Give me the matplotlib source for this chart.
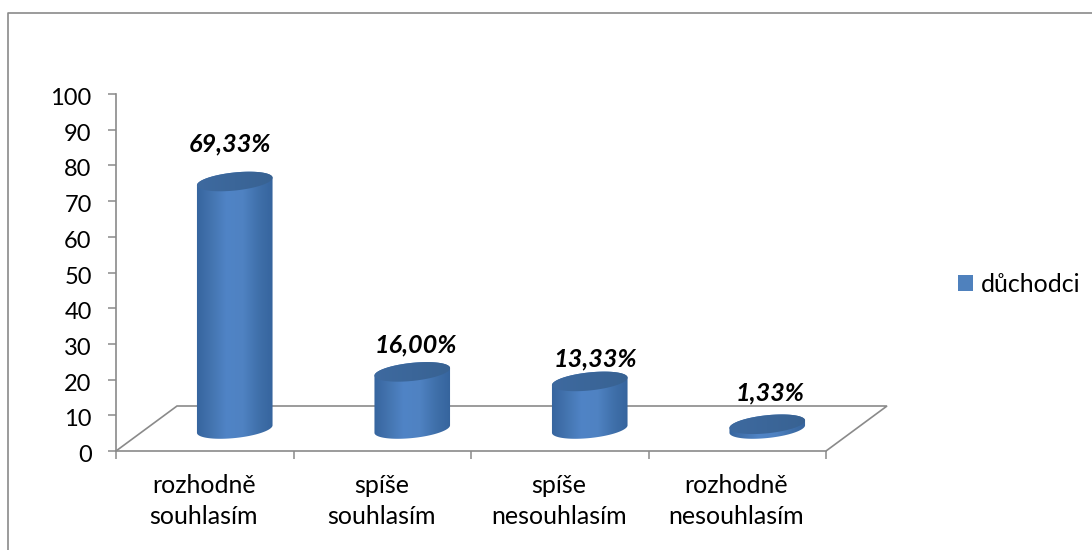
import numpy as np
import matplotlib
matplotlib.use("Agg")
import matplotlib.pyplot as plt
from matplotlib.lines import Line2D
from matplotlib.patches import Patch, PathPatch, Polygon
from matplotlib.path import Path
from matplotlib.colors import LinearSegmentedColormap
from matplotlib.transforms import ScaledTranslation

categories = ["rozhodně\nsouhlasím", "spíše\nsouhlasím", "spíše\nnesouhlasím", "rozhodně\nnesouhlasím"]
values = [69.33, 16.0, 13.33, 1.33]
value_labels = ["69,33%", "16,00%", "13,33%", "1,33%"]
series_name = "důchodci"
y_ticks = list(range(0, 101, 10))

W, H = 1092, 550
plt.rcParams["font.family"] = ["Lato", "DejaVu Sans"]
GRAY = "#8a8a8a"

fig = plt.figure(figsize=(W / 100, H / 100), dpi=100, facecolor="white")
L, R, T, B = 116, 826, 94, 451
ax = fig.add_axes([L / W, 1 - B / H, (R - L) / W, (B - T) / H])
ax.set_xlim(0, 4)
ax.set_ylim(0, 100)
ax.patch.set_visible(False)
PX_X = (R - L) / 4
PX_Y = (B - T) / 100

for s in ("top", "right"):
    ax.spines[s].set_visible(False)
for s in ("left", "bottom"):
    ax.spines[s].set_color(GRAY)
    ax.spines[s].set_linewidth(1.2)
ax.set_yticks(y_ticks)
ax.set_xticks(range(5))
ax.set_xticklabels([])
ax.tick_params(axis="y", length=5.5, width=1.1, color=GRAY, labelsize=17, pad=12, labelcolor="black")
ax.tick_params(axis="x", length=5.5, width=1.1, color=GRAY)
shift = ScaledTranslation(0, -2.5 / 100, fig.dpi_scale_trans)
for lab in ax.get_yticklabels():
    lab.set_transform(lab.get_transform() + shift)

# floor of the 3D plot
dx, dy = 61 / PX_X, 45 / PX_Y
ax.add_patch(Polygon([(0, 0), (dx, dy), (4 + dx, dy), (4, 0)], closed=False, fill=False,
                     edgecolor=GRAY, lw=1.2, clip_on=False, zorder=1))

cmap = LinearSegmentedColormap.from_list("cyl", ["#34629b", "#4373ae", "#5084c6", "#4f82c2", "#3f6fa9", "#34629b"])
top_cmap = LinearSegmentedColormap.from_list("top", ["#3e6aa0", "#386292"])
A, C, THETA = 38.0, 9.0, np.deg2rad(6)
base_dx, base_dy = 30 / PX_X, 22 / PX_Y


def ell(cx, cy, t):
    ex = A * np.cos(t) * np.cos(THETA) - C * np.sin(t) * np.sin(THETA)
    ey = A * np.cos(t) * np.sin(THETA) + C * np.sin(t) * np.cos(THETA)
    return cx + ex / PX_X, cy + ey / PX_Y


def fill_gradient(verts, cm, cx, cy0, cy1, z):
    p = PathPatch(Path(np.array(verts)), fc="none", ec="none", transform=ax.transData,
                  clip_on=False, zorder=z)
    ax.add_patch(p)
    g = np.linspace(0, 1, 256).reshape(1, -1)
    half = (A + 3) / PX_X
    im = ax.imshow(g, cmap=cm, aspect="auto", extent=(cx - half, cx + half, cy0, cy1),
                   zorder=z, interpolation="bilinear")
    im.set_clip_on(True)
    im.set_clip_path(p)


label_offsets = [38, 27, 22, 31]
label_dx = [-5, 4, 6, 3]
t_up = np.linspace(0, np.pi, 60)
t_low = np.linspace(np.pi, 2 * np.pi, 60)
for i, (v, txt) in enumerate(zip(values, value_labels)):
    cx = i + 0.5 + base_dx
    y0 = base_dy
    y1 = base_dy + v
    bx, by = ell(cx, y0, t_low)
    body = list(zip(bx, by))
    tx, ty = ell(cx, y1, t_up)
    body += list(zip(tx, ty))
    fill_gradient(body, cmap, cx, y0 - 12 / PX_Y, y1 + 12 / PX_Y, 3)
    ex, ey = ell(cx, y1, np.linspace(0, 2 * np.pi, 120))
    fill_gradient(list(zip(ex, ey)), top_cmap, cx, y1 - 12 / PX_Y, y1 + 12 / PX_Y, 4)
    ax.annotate(txt, xy=(cx, y1), xytext=(label_dx[i], label_offsets[i]), textcoords="offset pixels",
                ha="center", va="center", fontsize=18.2, fontweight="bold", fontstyle="italic",
                color="black", annotation_clip=False, zorder=6)

ax.set_xlim(0, 4)
ax.set_ylim(0, 100)

for i, c in enumerate(categories):
    ax.annotate(c, xy=(i + 0.5, 0), xytext=(-1, -50), textcoords="offset pixels", ha="center", va="center",
                fontsize=18, linespacing=1.4, annotation_clip=False)

ax.legend(handles=[Patch(facecolor="#4f81bd", edgecolor="none", label=series_name)],
          loc="center left", bbox_to_anchor=(958 / W, 1 - 284 / H), bbox_transform=fig.transFigure,
          frameon=False, fontsize=18, handlelength=0.6, handleheight=0.6, handletextpad=0.3,
          borderpad=0, borderaxespad=0)

# outer chart border, only partly inside the picture
fig.add_artist(Line2D([7.5 / W, 7.5 / W, 1], [0, 1 - 12.5 / H, 1 - 12.5 / H], color=GRAY, lw=1.2))

fig.savefig("out.png", dpi=100, facecolor="white")
